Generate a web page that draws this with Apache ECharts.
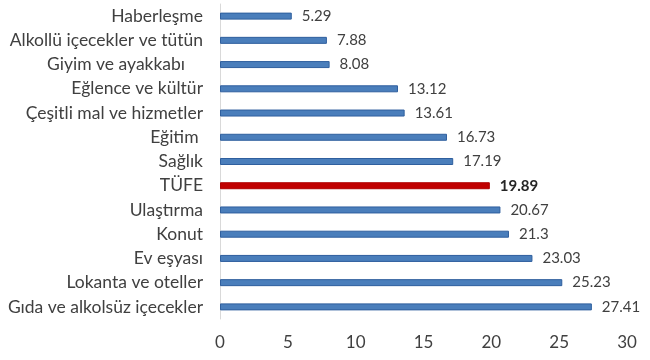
<!DOCTYPE html>
<html><head><meta charset="utf-8">
<script src="https://cdn.jsdelivr.net/npm/echarts@6/dist/echarts.min.js"></script>
<style>html,body{margin:0;padding:0;background:#fff}#c{width:650px;height:360px}</style>
</head><body><div id="c"></div>
<script>
const categories = ["Haberleşme","Alkollü içecekler ve tütün","Giyim ve ayakkabı    ","Eğlence ve kültür","Çeşitli mal ve hizmetler","Eğitim ","Sağlık","TÜFE","Ulaştırma","Konut","Ev eşyası","Lokanta ve oteller","Gıda ve alkolsüz içecekler"];
const values = [5.29,7.88,8.08,13.12,13.61,16.73,17.19,19.89,20.67,21.3,23.03,25.23,27.41];
const highlight = "TÜFE";
const xTicks = [0,5,10,15,20,25,30];

const data = values.map((v,i)=>{
  const hi = categories[i]===highlight;
  return {value:v,
    itemStyle: hi ? {color:'#c00000',borderColor:'#b00000',borderWidth:1} : {color:'#4a7ebb',borderColor:'#2f5f9e',borderWidth:1},
    label: hi ? {fontWeight:'bold',color:'#262626'} : {}};
});
const chart = echarts.init(document.getElementById('c'));
chart.setOption({
  animation:false,
  grid:{left:220,right:23,top:4,bottom:41,containLabel:false},
  xAxis:{type:'value',min:xTicks[0],max:xTicks[xTicks.length-1],interval:5,
    axisLine:{show:false},axisTick:{show:false},splitLine:{show:false},
    axisLabel:{fontFamily:'Lato',fontSize:17,color:'#404040',margin:15}},
  yAxis:{type:'category',data:categories,inverse:true,
    axisLine:{show:true,lineStyle:{color:'#d9d9d9',width:1}},axisTick:{show:false},
    axisLabel:{fontFamily:'Lato',fontSize:17.5,color:'#404040',margin:17}},
  series:[{type:'bar',data:data,barWidth:7,
    label:{show:true,position:'right',distance:10,fontFamily:'Lato',fontSize:15,color:'#404040'}}]
});
</script></body></html>
